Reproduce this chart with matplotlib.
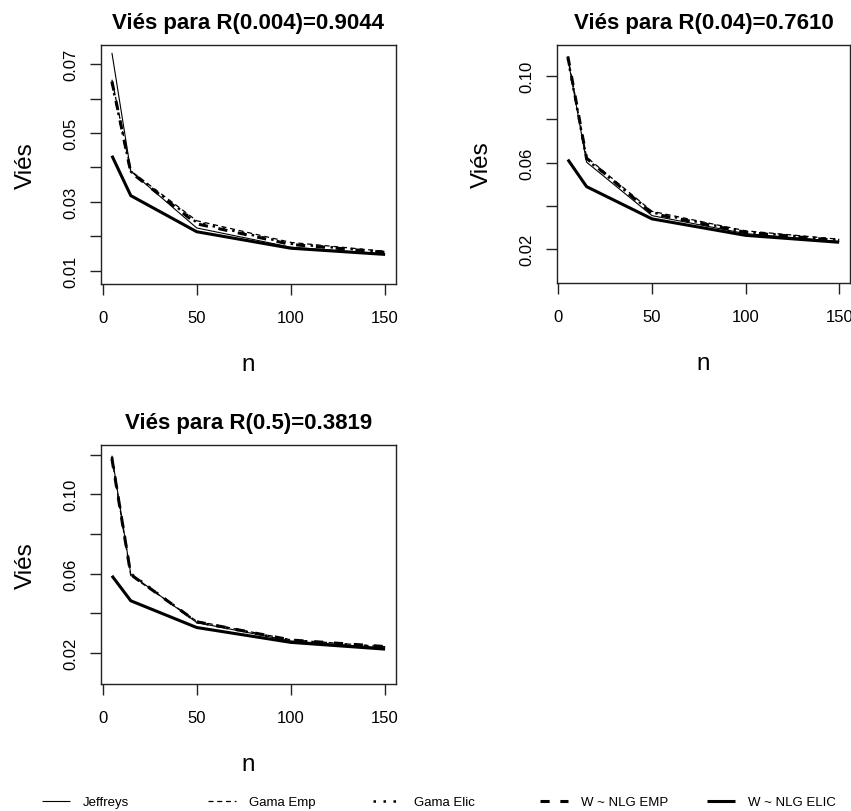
import matplotlib
matplotlib.use('Agg')
import matplotlib.pyplot as plt
from matplotlib.lines import Line2D

plt.rcParams['font.family'] = ['Liberation Sans', 'DejaVu Sans']

### sample sizes
n = [5, 15, 50, 100, 150]

### bias values, one list per prior and panel
# R(0.004)=0.9044
jef_1 = [0.0733, 0.0389, 0.0224, 0.0168, 0.0148]
gemp_1 = [0.0655, 0.0390, 0.0245, 0.0182, 0.0156]
gelic_1 = [0.0645, 0.0388, 0.0240, 0.0178, 0.0154]
wemp_1 = [0.0650, 0.0386, 0.0236, 0.0176, 0.0153]
welic_1 = [0.0434, 0.0318, 0.0213, 0.0165, 0.0147]

# R(0.04)=0.7610
jef_2 = [0.1080, 0.0602, 0.0355, 0.0272, 0.0236]
gemp_2 = [0.1090, 0.0625, 0.0375, 0.0285, 0.0246]
gelic_2 = [0.1080, 0.0615, 0.0370, 0.0280, 0.0243]
wemp_2 = [0.1090, 0.0620, 0.0365, 0.0278, 0.0240]
welic_2 = [0.0614, 0.0489, 0.0340, 0.0264, 0.0232]

# R(0.5)=0.3819
jef_3 = [0.1195, 0.0597, 0.0353, 0.0260, 0.0225]
gemp_3 = [0.1180, 0.0590, 0.0360, 0.0266, 0.0231]
gelic_3 = [0.1190, 0.0600, 0.0355, 0.0263, 0.0228]
wemp_3 = [0.1180, 0.0595, 0.0357, 0.0265, 0.0232]
welic_3 = [0.0589, 0.0463, 0.0328, 0.0253, 0.0219]

titles = ['Viés para R(0.004)=0.9044', 'Viés para R(0.04)=0.7610', 'Viés para R(0.5)=0.3819']
labels = ['Jeffreys', 'Gama Emp', 'Gama Elic', 'W ~ NLG EMP', 'W ~ NLG ELIC']

yticks_1 = [0.01, 0.02, 0.03, 0.04, 0.05, 0.06, 0.07]
ylabs_1 = ['0.01', '', '0.03', '', '0.05', '', '0.07']
yticks_2 = [0.02, 0.04, 0.06, 0.08, 0.10]
ylabs_2 = ['0.02', '', '0.06', '', '0.10']
yticks_3 = [0.02, 0.04, 0.06, 0.08, 0.10, 0.12]
ylabs_3 = ['0.02', '', '0.06', '', '0.10', '']
xticks = [0, 50, 100, 150]

# line styles: thin solid, dashed, dotted, thick dashed, thick solid
styles = [dict(lw=0.8, ls='-'),
          dict(lw=0.9, ls=(0, (4, 3))),
          dict(lw=1.8, ls=(0, (1, 3))),
          dict(lw=2.2, ls=(0, (3, 3.5))),
          dict(lw=2.2, ls='-')]

W, H = 851, 812
fig = plt.figure(figsize=(W / 100, H / 100), dpi=100)

def box(l, t, r, b):
    return [l / W, 1 - b / H, (r - l) / W, (b - t) / H]

panels = [
    (box(101, 46, 396, 285), [jef_1, gemp_1, gelic_1, wemp_1, welic_1], (0.0061, 0.0756), yticks_1, ylabs_1),
    (box(557, 46, 850, 284), [jef_2, gemp_2, gelic_2, wemp_2, welic_2], (0.0044, 0.1143), yticks_2, ylabs_2),
    (box(101, 446, 396, 685), [jef_3, gemp_3, gelic_3, wemp_3, welic_3], (0.0043, 0.1249), yticks_3, ylabs_3),
]

for i, (pos, series, ylim, yt, yl) in enumerate(panels):
    ax = fig.add_axes(pos)
    for s, st in zip(series, styles):
        ax.plot(n, s, color='black', solid_capstyle='butt', dash_capstyle='butt', **st)
    ax.set_xlim(-0.8, 155.8)
    ax.set_ylim(*ylim)
    ax.set_xticks(xticks)
    ax.set_xticklabels([str(x) for x in xticks], fontsize=12)
    ax.set_yticks(yt)
    ax.set_yticklabels(yl, fontsize=12, rotation=90, va='center')
    ax.tick_params(length=8, width=1, color='#222222')
    ax.tick_params(axis='x', pad=11)
    ax.tick_params(axis='y', pad=8)
    for sp in ax.spines.values():
        sp.set_linewidth(1)
        sp.set_color('#222222')
    ax.set_title(titles[i], fontsize=16, fontweight='bold', pad=12)
    ax.set_xlabel('n', fontsize=17.5, labelpad=20)
    ax.set_ylabel('Viés', fontsize=17.5, labelpad=19)

### legend along the bottom, one entry at a time
leg_x = [42, 208, 373, 540, 707]
for x, lab, st in zip(leg_x, labels, styles):
    h = Line2D([], [], color='black', solid_capstyle='butt', dash_capstyle='butt', **st)
    fig.legend(handles=[h], labels=[lab], loc='center left', bbox_to_anchor=(x / W, 1 - 803 / H),
               frameon=False, fontsize=9.5, handlelength=2.1, handletextpad=1.0,
               borderpad=0, borderaxespad=0)

fig.savefig('out.png', dpi=100)
